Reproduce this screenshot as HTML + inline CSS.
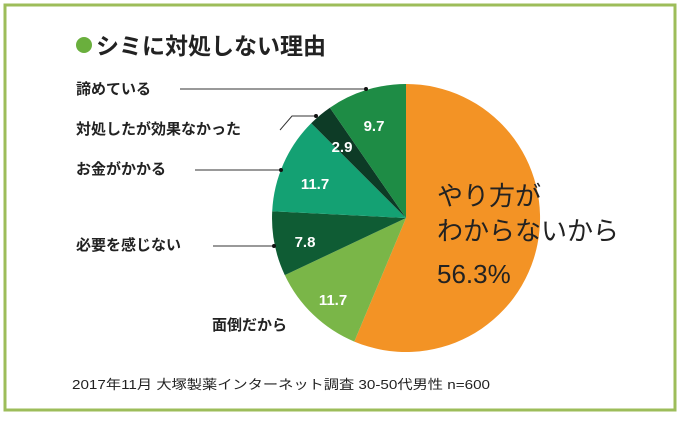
<!DOCTYPE html>
<html><head><meta charset="utf-8"><style>
html,body{margin:0;padding:0;background:#fff;}
body{width:680px;height:416px;overflow:hidden;}
</style></head><body>
<svg width="680" height="416" xmlns="http://www.w3.org/2000/svg" font-family="'Liberation Sans','Noto Sans CJK JP',sans-serif">
<rect x="5" y="5" width="670" height="405" fill="#fff" stroke="#9dbd5a" stroke-width="3"/>
<circle cx="84" cy="45" r="8" fill="#6aaf3d"/>
<text x="96" y="54" font-size="23" font-weight="bold" fill="#222">シミに対処しない理由</text>
<g transform="translate(0,0)">
<path d="M406,218 L406,84 A134,134 0 1,1 354.3,341.6 Z" fill="#f39325"/>
<path d="M406,218 L354.3,341.6 A134,134 0 0,1 284.8,275.1 Z" fill="#7ab648"/>
<path d="M406,218 L284.8,275.1 A134,134 0 0,1 272.2,211.2 Z" fill="#0f5c34"/>
<path d="M406,218 L272.2,211.2 A134,134 0 0,1 311.2,123.2 Z" fill="#14a173"/>
<path d="M406,218 L311.2,123.2 A134,134 0 0,1 329.9,107.7 Z" fill="#0d3b26"/>
<path d="M406,218 L329.9,107.7 A134,134 0 0,1 406,84 Z" fill="#1e8c45"/>
</g>
<g fill="#fff" font-size="15" font-weight="bold" text-anchor="middle">
<text x="374" y="131">9.7</text>
<text x="342" y="152">2.9</text>
<text x="315" y="189">11.7</text>
<text x="305" y="247">7.8</text>
<text x="333" y="305">11.7</text>
</g>
<g fill="#222" font-size="26">
<text x="437" y="205">やり方が</text>
<text x="437" y="240">わからないから</text>
<text x="437" y="283">56.3%</text>
</g>
<g fill="#222" font-size="15" font-weight="bold">
<text x="76" y="94">諦めている</text>
<text x="76" y="134">対処したが効果なかった</text>
<text x="76" y="174">お金がかかる</text>
<text x="76" y="250">必要を感じない</text>
<text x="212" y="330">面倒だから</text>
</g>
<g stroke="#333" stroke-width="1" fill="none">
<line x1="180" y1="89" x2="366" y2="89"/>
<polyline points="280,130 292,116 316,116"/>
<line x1="195" y1="170" x2="281" y2="170"/>
<line x1="213" y1="246" x2="274" y2="246"/>
</g>
<g fill="#111"><circle cx="366" cy="89" r="2"/><circle cx="316" cy="116" r="2"/><circle cx="281" cy="170" r="2"/><circle cx="274" cy="246" r="2"/></g>
<text x="72" y="389" font-size="13" fill="#222" textLength="418" lengthAdjust="spacingAndGlyphs">2017年11月 大塚製薬インターネット調査 30-50代男性 n=600</text>
</svg>
</body></html>
